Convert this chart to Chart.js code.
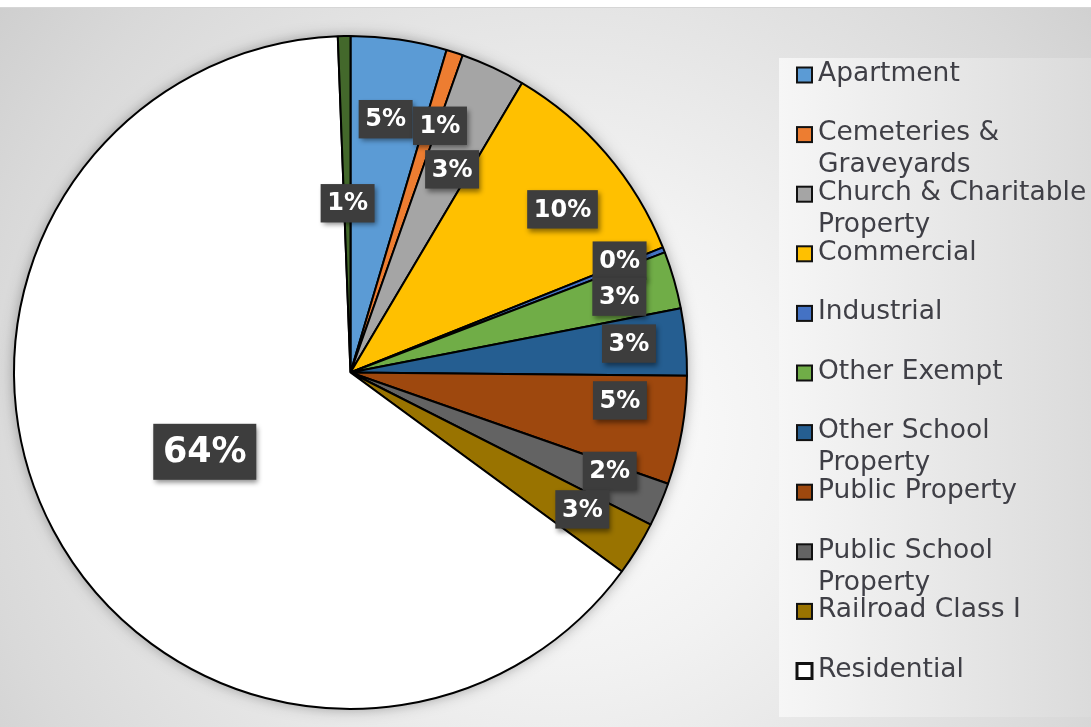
<!DOCTYPE html>
<html>
<head>
  <title>Parcel Class Share Pie</title>
  <script src="https://cdn.jsdelivr.net/npm/chart.js"></script>
  <style>
    html, body { margin: 0; padding: 0; background: #fff; }
    #wrap { width: 1091px; height: 727px; position: relative; }
  </style>
</head>
<body>
  <div id="wrap">
    <canvas id="classPie"></canvas>
  </div>

  <script>
    // Share of parcels by class (percent)
    const categories = [
      'Apartment', 'Cemeteries & Graveyards', 'Church & Charitable Property',
      'Commercial', 'Industrial', 'Other Exempt', 'Other School Property',
      'Public Property', 'Public School Property', 'Railroad Class I',
      'Residential', 'Vacant Land'
    ];
    const shares = [4.6, 0.8, 3.1, 10.4, 0.25, 2.75, 3.2, 5.2, 2.1, 2.6, 64.2, 0.6];

    const sliceColors = [
      '#5B9BD5', '#ED7D31', '#A5A5A5', '#FFC000', '#4472C4', '#70AD47',
      '#255E91', '#9E480E', '#636363', '#997300', '#FFFFFF', '#43682B'
    ];

    // the legend in the source only lists the first 11 classes
    const legendCount = 11;

    // where each percent tag sits: angle nudge from the slice middle (deg), share of radius
    const tagNudge = [-0.4, 1.9, 1.5, 3.0, -1.2, 0.2, -0.7, -4.0, -2.3, -1.0, -0.6, 0.1];
    const tagRadius = [0.76, 0.78, 0.675, 0.795, 0.866, 0.83, 0.832, 0.805, 0.824, 0.80, 0.493, 0.503];
    const tagFont = [24, 24, 24, 24, 24, 24, 24, 24, 24, 24, 35, 24];

    const total = shares.reduce((a, b) => a + b, 0);

    // background panel, legend box and the soft shadow under the pie
    const backdrop = {
      id: 'backdrop',
      beforeDraw(chart) {
        const ctx = chart.ctx;
        const w = chart.width, h = chart.height;
        ctx.save();
        ctx.fillStyle = '#ffffff';
        ctx.fillRect(0, 0, w, h);

        const g = ctx.createRadialGradient(560, 430, 0, 560, 430, 780);
        g.addColorStop(0, '#ffffff');
        g.addColorStop(0.3, '#f2f2f2');
        g.addColorStop(0.75, '#d9d9d9');
        g.addColorStop(1, '#c8c8c8');
        ctx.fillStyle = g;
        ctx.fillRect(0, 8, w, h - 8);
        ctx.fillStyle = '#d6d6d6';
        ctx.fillRect(0, 7, w, 1);

        const lg = ctx.createLinearGradient(779, 0, w, 0);
        lg.addColorStop(0, '#f6f6f6');
        lg.addColorStop(1, '#dbdbdb');
        ctx.fillStyle = lg;
        ctx.fillRect(779, 58, w - 779, 659);

        const arc = chart.getDatasetMeta(0).data[0];
        if (arc) {
          ctx.shadowColor = 'rgba(0,0,0,0.35)';
          ctx.shadowBlur = 14;
          ctx.fillStyle = '#ffffff';
          ctx.beginPath();
          ctx.arc(arc.x, arc.y, arc.outerRadius, 0, Math.PI * 2);
          ctx.fill();
        }
        ctx.restore();
      }
    };

    // dark percent tags on the slices
    const sliceTags = {
      id: 'sliceTags',
      afterDatasetsDraw(chart) {
        const ctx = chart.ctx;
        const arcs = chart.getDatasetMeta(0).data;
        ctx.save();
        arcs.forEach((arc, i) => {
          const mid = (arc.startAngle + arc.endAngle) / 2 + tagNudge[i] * Math.PI / 180;
          const r = arc.outerRadius * tagRadius[i];
          const cx = arc.x + Math.cos(mid) * r;
          const cy = arc.y + Math.sin(mid) * r;
          const text = Math.round(shares[i] / total * 100) + '%';
          const fs = tagFont[i];
          ctx.font = 'bold ' + fs + 'px "DejaVu Sans"';
          const bw = ctx.measureText(text).width + fs * 0.55;
          const bh = fs * 1.6;
          ctx.shadowColor = 'rgba(0,0,0,0.45)';
          ctx.shadowBlur = 5;
          ctx.shadowOffsetX = 2;
          ctx.shadowOffsetY = 3;
          ctx.fillStyle = '#3d3d3d';
          ctx.fillRect(cx - bw / 2, cy - bh / 2, bw, bh);
          ctx.shadowColor = 'transparent';
          ctx.fillStyle = '#ffffff';
          ctx.textAlign = 'center';
          ctx.textBaseline = 'middle';
          ctx.fillText(text, cx, cy + 1);
        });
        ctx.restore();
      }
    };

    function wrapWords(ctx, text, maxWidth) {
      const words = text.split(' ');
      const lines = [];
      let line = '';
      words.forEach(word => {
        const test = line ? line + ' ' + word : word;
        if (line && ctx.measureText(test).width > maxWidth) {
          lines.push(line);
          line = word;
        } else {
          line = test;
        }
      });
      lines.push(line);
      return lines;
    }

    // legend on the right, fixed step, long names wrap onto a second line
    const sideLegend = {
      id: 'sideLegend',
      afterDraw(chart) {
        const ctx = chart.ctx;
        ctx.save();
        ctx.font = '26.5px "DejaVu Sans"';
        ctx.textBaseline = 'middle';
        ctx.textAlign = 'left';
        for (let i = 0; i < legendCount; i++) {
          const y = 74 + i * 59.6;
          ctx.fillStyle = sliceColors[i];
          ctx.fillRect(797, y - 6.5, 15, 15);
          ctx.strokeStyle = '#111111';
          ctx.lineWidth = sliceColors[i] === '#FFFFFF' ? 3 : 2;
          ctx.strokeRect(797, y - 6.5, 15, 15);
          ctx.fillStyle = '#3f3f46';
          wrapWords(ctx, categories[i], 272).forEach((line, k) => {
            ctx.fillText(line, 818, y + k * 32);
          });
        }
        ctx.restore();
      }
    };

    new Chart(document.getElementById('classPie'), {
      type: 'pie',
      data: {
        labels: categories,
        datasets: [{
          data: shares,
          backgroundColor: sliceColors,
          borderColor: '#000000',
          borderWidth: 2
        }]
      },
      options: {
        responsive: true,
        maintainAspectRatio: false,
        animation: false,
        layout: {
          padding: { top: 35, bottom: 17, left: 13, right: 403 }
        },
        plugins: {
          legend: { display: false },
          tooltip: { enabled: false }
        }
      },
      plugins: [backdrop, sliceTags, sideLegend]
    });
  </script>
</body>
</html>
